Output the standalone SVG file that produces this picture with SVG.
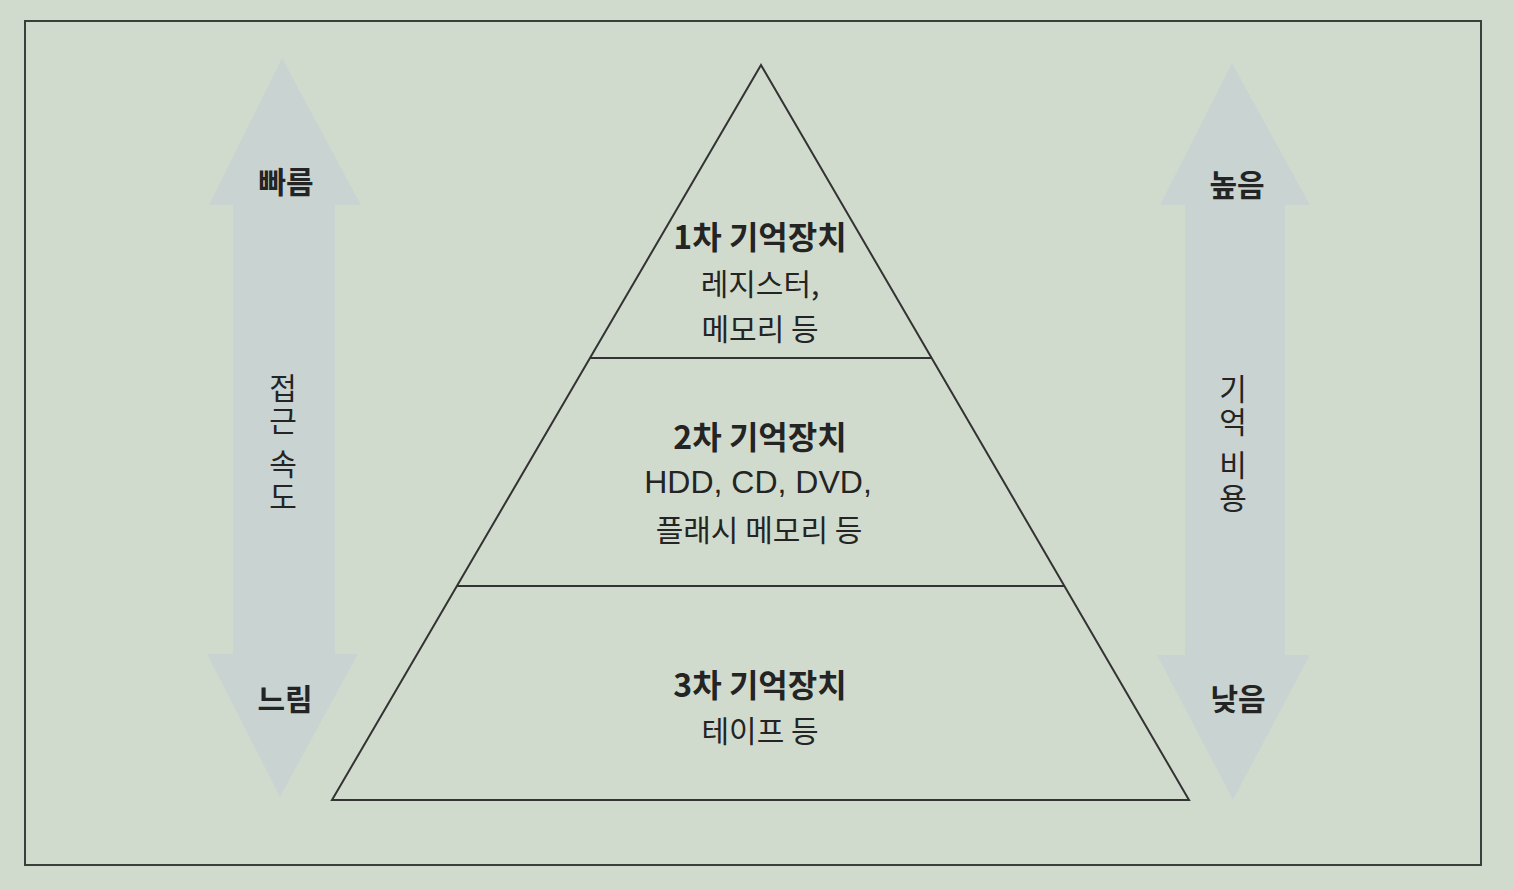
<svg xmlns="http://www.w3.org/2000/svg" width="1514" height="890" viewBox="0 0 1514 890">
<style>
.t{font-family:"Noto Sans CJK KR","Noto Sans",sans-serif;fill:#242424;text-anchor:middle;}
.b{font-weight:bold;font-size:32px;}
.a{font-weight:bold;font-size:30px;}
.r{font-size:30px;}
.lat{font-family:"Liberation Sans","Noto Sans CJK KR",sans-serif;font-size:32px;}
.v{font-size:30px;writing-mode:vertical-rl;text-anchor:start;letter-spacing:3px;}
.arrow{fill:#c9d4d2;}
.ln{stroke:#333;stroke-width:2;fill:none;}
</style>
<rect x="0" y="0" width="1514" height="890" fill="#d1dbcd"/>
<rect x="25" y="21" width="1456" height="844" fill="none" stroke="#3a3f3a" stroke-width="2"/>
<g id="left-arrow">
<polygon class="arrow" points="282,58 361,205 335,205 335,654 358,654 280,797 207,654 233,654 233,205 209,205"/>
<text class="t a" x="286" y="193">빠름</text>
<text class="t a" x="285" y="710">느림</text>
<text class="t v" x="283" y="373">접근 속도</text>
</g>
<g id="right-arrow">
<polygon class="arrow" points="1232,63 1310,205 1285,205 1285,655 1310,655 1233,800 1157,655 1185,655 1185,205 1160,205"/>
<text class="t a" x="1237" y="196">높음</text>
<text class="t a" x="1238" y="710">낮음</text>
<text class="t v" x="1233" y="374">기억 비용</text>
</g>
<g id="pyramid">
<polygon class="ln" points="761,65 1189,800 332,800"/>
</g>
<g id="connectors">
<line class="ln" x1="590" y1="358" x2="932" y2="358"/>
<line class="ln" x1="457" y1="586" x2="1065" y2="586"/>
</g>
<g id="tier1">
<text class="t b" x="760" y="249">1차 기억장치</text>
<text class="t r" x="760" y="295">레지스터,</text>
<text class="t r" x="760" y="340">메모리 등</text>
</g>
<g id="tier2">
<text class="t b" x="760" y="449">2차 기억장치</text>
<text class="t lat" x="758" y="493">HDD, CD, DVD,</text>
<text class="t r" x="759" y="541">플래시 메모리 등</text>
</g>
<g id="tier3">
<text class="t b" x="760" y="697">3차 기억장치</text>
<text class="t r" x="760" y="742">테이프 등</text>
</g>
</svg>
